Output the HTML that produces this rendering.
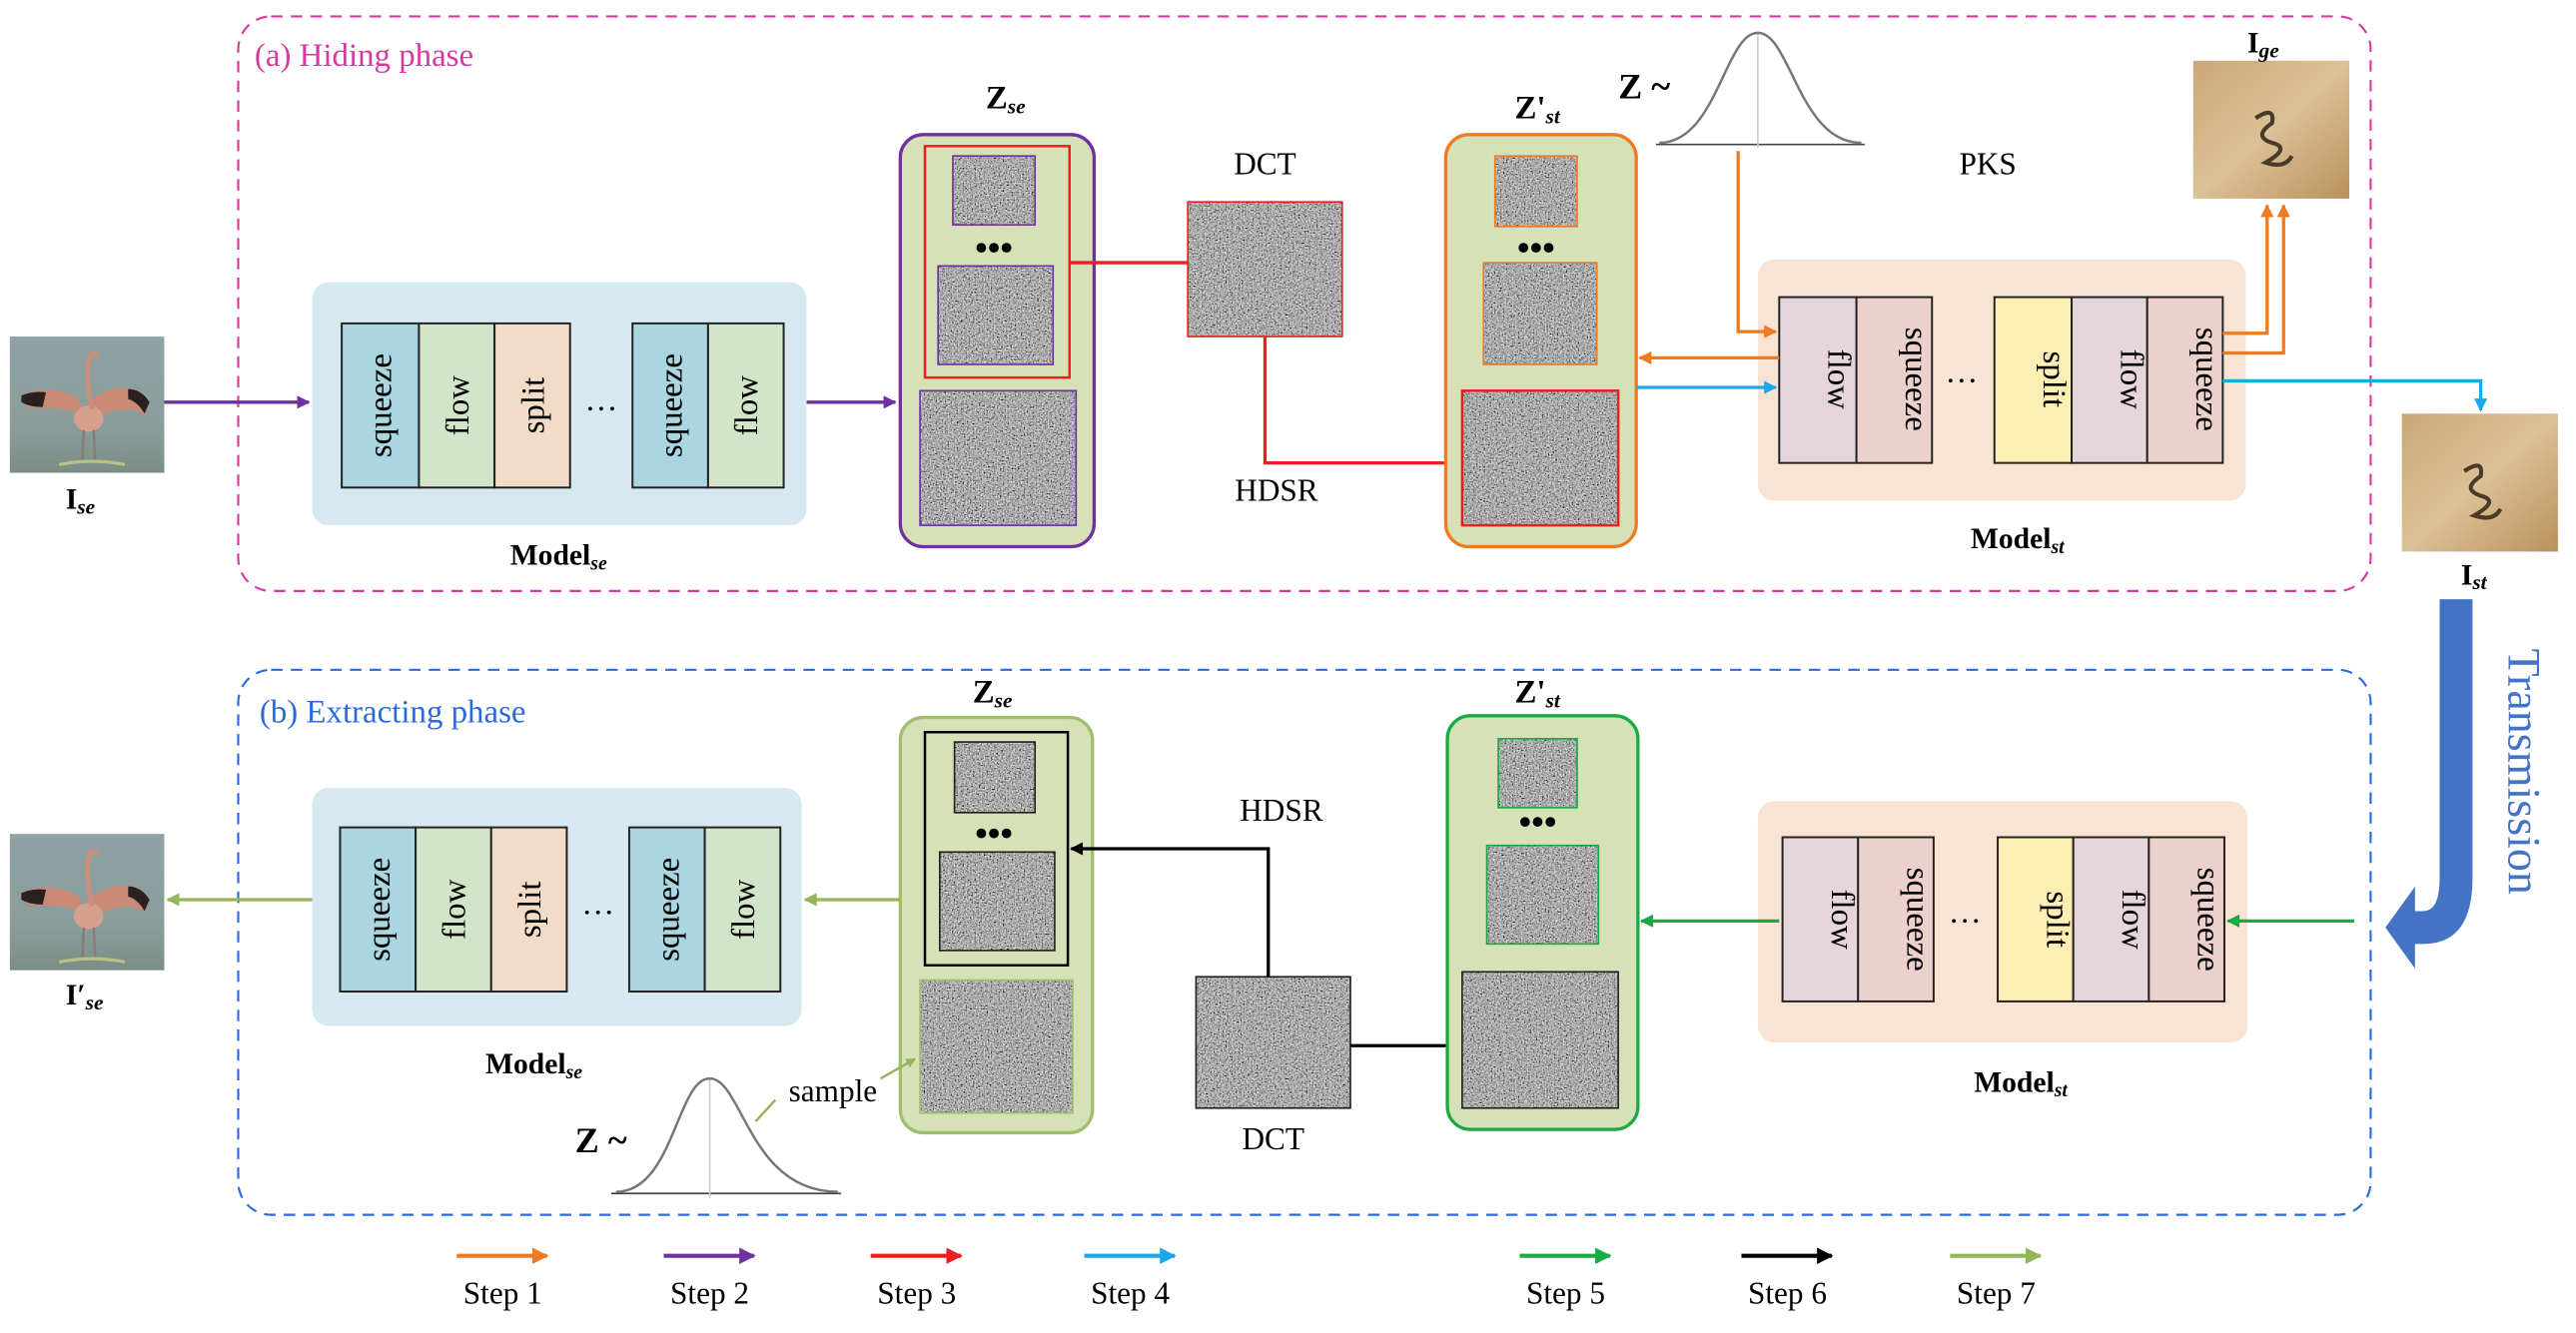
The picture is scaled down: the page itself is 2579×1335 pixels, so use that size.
<!DOCTYPE html>
<html><head><meta charset="utf-8"><style>
html,body{margin:0;padding:0;background:#fff;}
svg{display:block;}
text{font-family:"Liberation Serif",serif;}
</style></head><body>
<svg width="2579" height="1335" viewBox="0 0 1568 812" preserveAspectRatio="none" xmlns="http://www.w3.org/2000/svg">
<defs>
<filter id="nz" x="0" y="0" width="100%" height="100%">
<feTurbulence type="fractalNoise" baseFrequency="1.1" numOctaves="2" seed="3"/>
<feColorMatrix type="matrix" values="0.33 0.33 0.33 0 0 0.33 0.33 0.33 0 0 0.33 0.33 0.33 0 0 0 0 0 0 1"/>
<feComponentTransfer><feFuncR type="linear" slope="2.4" intercept="-0.78"/><feFuncG type="linear" slope="2.4" intercept="-0.78"/><feFuncB type="linear" slope="2.4" intercept="-0.78"/></feComponentTransfer>
</filter>
<marker id="mo" viewBox="0 0 10 10" refX="9" refY="5" markerWidth="4" markerHeight="4" orient="auto"><path d="M0,0L10,5L0,10z" fill="#ee7a22"/></marker>
<marker id="mp" viewBox="0 0 10 10" refX="9" refY="5" markerWidth="4" markerHeight="4" orient="auto"><path d="M0,0L10,5L0,10z" fill="#7030a0"/></marker>
<marker id="mr" viewBox="0 0 10 10" refX="9" refY="5" markerWidth="4" markerHeight="4" orient="auto"><path d="M0,0L10,5L0,10z" fill="#e82020"/></marker>
<marker id="mc" viewBox="0 0 10 10" refX="9" refY="5" markerWidth="4" markerHeight="4" orient="auto"><path d="M0,0L10,5L0,10z" fill="#1aa8e8"/></marker>
<marker id="mg" viewBox="0 0 10 10" refX="9" refY="5" markerWidth="4" markerHeight="4" orient="auto"><path d="M0,0L10,5L0,10z" fill="#1aaa44"/></marker>
<marker id="mk" viewBox="0 0 10 10" refX="9" refY="5" markerWidth="4" markerHeight="4" orient="auto"><path d="M0,0L10,5L0,10z" fill="#000"/></marker>
<marker id="ml" viewBox="0 0 10 10" refX="9" refY="5" markerWidth="4" markerHeight="4" orient="auto"><path d="M0,0L10,5L0,10z" fill="#92b659"/></marker>
<linearGradient id="sand" x1="0" y1="0" x2="1" y2="1"><stop offset="0" stop-color="#c9a877"/><stop offset="0.5" stop-color="#dcc096"/><stop offset="1" stop-color="#b8925e"/></linearGradient>
<linearGradient id="fl" x1="0" y1="0" x2="0" y2="1"><stop offset="0" stop-color="#8fa3a6"/><stop offset="0.7" stop-color="#8a9c9a"/><stop offset="1" stop-color="#7b8d86"/></linearGradient>
<g id="flam">
<rect x="0" y="0" width="94" height="83" fill="url(#fl)"/>
<path d="M7,36 Q25,28 42,38 L46,48 Q30,42 12,44 Z" fill="#c98a76"/>
<path d="M7,36 Q14,33 22,34 L20,43 Q12,43 7,40 Z" fill="#2a2020"/>
<path d="M50,38 Q65,28 78,33 L83,48 Q70,40 52,50 Z" fill="#c98a76"/>
<path d="M72,32 Q80,32 85,40 L82,47 Q78,40 72,38 Z" fill="#2a2020"/>
<ellipse cx="48" cy="50" rx="9" ry="8" fill="#d6a08c"/>
<path d="M50,44 Q46,25 48,14 Q50,8 54,12" stroke="#c9907c" stroke-width="3" fill="none"/>
<path d="M45,57 L44,78 M51,57 L52,76" stroke="#8a7a74" stroke-width="1.5"/>
<path d="M30,78 Q50,74 70,78" stroke="#b9c088" stroke-width="2" fill="none"/>
</g>
<g id="sandimg">
<rect x="0" y="0" width="95" height="84" fill="url(#sand)"/>
<path d="M38,35 q12,-8 10,3 q-12,8 0,12 q12,3 -4,12 q12,4 16,-4" stroke="#4a3a28" stroke-width="2.5" fill="none"/>
</g>
</defs>

<rect x="145" y="10" width="1298" height="350" rx="20" fill="none" stroke="#d63aa0" stroke-width="1.3" stroke-dasharray="7,5"/>
<text x="155" y="40" font-size="20" fill="#d63aa0">(a) Hiding phase</text>
<rect x="145" y="408" width="1298" height="332" rx="20" fill="none" stroke="#2a6ae0" stroke-width="1.3" stroke-dasharray="7,5"/>
<text x="158" y="440" font-size="20" fill="#2a6ae0">(b) Extracting phase</text>

<use href="#flam" x="6" y="205"/>
<text x="40" y="310" font-size="18" font-weight="bold">I<tspan font-size="13" font-style="italic" dy="3">se</tspan></text>
<use href="#flam" x="6" y="508"/>
<text x="40" y="612" font-size="18" font-weight="bold">I′<tspan font-size="13" font-style="italic" dy="3">se</tspan></text>
<use href="#sandimg" x="1335" y="37"/>
<text x="1368" y="32" font-size="18" font-weight="bold">I<tspan font-size="13" font-style="italic" dy="3">ge</tspan></text>
<use href="#sandimg" x="1462" y="252"/>
<text x="1498" y="356" font-size="18" font-weight="bold">I<tspan font-size="13" font-style="italic" dy="3">st</tspan></text>

<rect x="190" y="172" width="301" height="148" rx="10" fill="#d6e9f1"/>
<g stroke="#222" stroke-width="1.2">
<rect x="208" y="197" width="47" height="100" fill="#a9d6e1"/>
<rect x="255" y="197" width="46" height="100" fill="#d3e5c8"/>
<rect x="301" y="197" width="46" height="100" fill="#f2dcc8"/>
<rect x="385" y="197" width="46" height="100" fill="#a9d6e1"/>
<rect x="431" y="197" width="46" height="100" fill="#d3e5c8"/>
</g>
<g font-size="20">
<text transform="translate(238,247) rotate(-90)" text-anchor="middle">squeeze</text>
<text transform="translate(285,247) rotate(-90)" text-anchor="middle">flow</text>
<text transform="translate(331,247) rotate(-90)" text-anchor="middle">split</text>
<text x="366" y="250" text-anchor="middle">…</text>
<text transform="translate(415,247) rotate(-90)" text-anchor="middle">squeeze</text>
<text transform="translate(461,247) rotate(-90)" text-anchor="middle">flow</text>
</g>
<text x="340" y="344" font-size="18" font-weight="bold" text-anchor="middle">Model<tspan font-size="12" font-style="italic" dy="3">se</tspan></text>

<rect x="190" y="480" width="298" height="145" rx="10" fill="#d6e9f1"/>
<g stroke="#222" stroke-width="1.2">
<rect x="207" y="504" width="46" height="100" fill="#a9d6e1"/>
<rect x="253" y="504" width="46" height="100" fill="#d3e5c8"/>
<rect x="299" y="504" width="46" height="100" fill="#f2dcc8"/>
<rect x="383" y="504" width="46" height="100" fill="#a9d6e1"/>
<rect x="429" y="504" width="46" height="100" fill="#d3e5c8"/>
</g>
<g font-size="20">
<text transform="translate(237,554) rotate(-90)" text-anchor="middle">squeeze</text>
<text transform="translate(283,554) rotate(-90)" text-anchor="middle">flow</text>
<text transform="translate(329,554) rotate(-90)" text-anchor="middle">split</text>
<text x="364" y="557" text-anchor="middle">…</text>
<text transform="translate(413,554) rotate(-90)" text-anchor="middle">squeeze</text>
<text transform="translate(459,554) rotate(-90)" text-anchor="middle">flow</text>
</g>
<text x="325" y="654" font-size="18" font-weight="bold" text-anchor="middle">Model<tspan font-size="12" font-style="italic" dy="3">se</tspan></text>

<rect x="1070" y="158" width="297" height="147" rx="10" fill="#f9e3d3"/>
<g stroke="#222" stroke-width="1.2">
<rect x="1083" y="181" width="47" height="101" fill="#e6d6dc"/>
<rect x="1130" y="181" width="46" height="101" fill="#ecd0cc"/>
<rect x="1214" y="181" width="47" height="101" fill="#fdeeb4"/>
<rect x="1261" y="181" width="46" height="101" fill="#e6d6dc"/>
<rect x="1307" y="181" width="46" height="101" fill="#ecd0cc"/>
</g>
<g font-size="20">
<text transform="translate(1113,231) rotate(90)" text-anchor="middle">flow</text>
<text transform="translate(1160,231) rotate(90)" text-anchor="middle">squeeze</text>
<text x="1194" y="233" text-anchor="middle">…</text>
<text transform="translate(1244,231) rotate(90)" text-anchor="middle">split</text>
<text transform="translate(1291,231) rotate(90)" text-anchor="middle">flow</text>
<text transform="translate(1337,231) rotate(90)" text-anchor="middle">squeeze</text>
</g>
<text x="1228" y="334" font-size="18" font-weight="bold" text-anchor="middle">Model<tspan font-size="12" font-style="italic" dy="3">st</tspan></text>

<rect x="1070" y="488" width="298" height="147" rx="10" fill="#f9e3d3"/>
<g stroke="#222" stroke-width="1.2">
<rect x="1085" y="510" width="46" height="100" fill="#e6d6dc"/>
<rect x="1131" y="510" width="46" height="100" fill="#ecd0cc"/>
<rect x="1216" y="510" width="46" height="100" fill="#fdeeb4"/>
<rect x="1262" y="510" width="46" height="100" fill="#e6d6dc"/>
<rect x="1308" y="510" width="46" height="100" fill="#ecd0cc"/>
</g>
<g font-size="20">
<text transform="translate(1115,560) rotate(90)" text-anchor="middle">flow</text>
<text transform="translate(1161,560) rotate(90)" text-anchor="middle">squeeze</text>
<text x="1196" y="562" text-anchor="middle">…</text>
<text transform="translate(1246,560) rotate(90)" text-anchor="middle">split</text>
<text transform="translate(1292,560) rotate(90)" text-anchor="middle">flow</text>
<text transform="translate(1338,560) rotate(90)" text-anchor="middle">squeeze</text>
</g>
<text x="1230" y="665" font-size="18" font-weight="bold" text-anchor="middle">Model<tspan font-size="12" font-style="italic" dy="3">st</tspan></text>

<rect x="548" y="82" width="118" height="251" rx="14" fill="#d6e1b8" stroke="#7030a0" stroke-width="2"/>
<rect x="580" y="95" width="50" height="42" filter="url(#nz)"/><rect x="580" y="95" width="50" height="42" fill="none" stroke="#7030a0"/>
<text x="605" y="158" font-size="22" text-anchor="middle" font-weight="bold">•••</text>
<rect x="571" y="162" width="70" height="60" filter="url(#nz)"/><rect x="571" y="162" width="70" height="60" fill="none" stroke="#7030a0"/>
<rect x="563" y="89" width="88" height="141" fill="none" stroke="#e82020" stroke-width="1.5"/>
<rect x="560" y="238" width="95" height="82" filter="url(#nz)"/><rect x="560" y="238" width="95" height="82" fill="none" stroke="#7030a0"/>
<text x="600" y="66" font-size="20" font-weight="bold">Z<tspan font-size="13" font-style="italic" dy="3">se</tspan></text>

<rect x="723" y="123" width="94" height="82" filter="url(#nz)"/><rect x="723" y="123" width="94" height="82" fill="none" stroke="#e82020"/>
<text x="770" y="106" font-size="19" text-anchor="middle">DCT</text>
<text x="777" y="305" font-size="19" text-anchor="middle">HDSR</text>
<path d="M651,160H723" stroke="#e82020" stroke-width="2" fill="none"/>
<path d="M770,205V282H888" stroke="#e82020" stroke-width="2" fill="none" marker-end="url(#mr)"/>

<rect x="880" y="82" width="116" height="251" rx="14" fill="#d6e1b8" stroke="#ee7a22" stroke-width="2"/>
<rect x="910" y="95" width="50" height="43" filter="url(#nz)"/><rect x="910" y="95" width="50" height="43" fill="none" stroke="#ee7a22"/>
<text x="935" y="158" font-size="22" text-anchor="middle" font-weight="bold">•••</text>
<rect x="903" y="160" width="69" height="62" filter="url(#nz)"/><rect x="903" y="160" width="69" height="62" fill="none" stroke="#ee7a22"/>
<rect x="890" y="238" width="95" height="82" filter="url(#nz)"/><rect x="890" y="238" width="95" height="82" fill="none" stroke="#e82020" stroke-width="1.5"/>
<text x="922" y="72" font-size="20" font-weight="bold">Z'<tspan font-size="13" font-style="italic" dy="3">st</tspan></text>

<text x="985" y="60" font-size="22" font-weight="bold">Z ~</text>
<path d="M1008,88H1135" stroke="#444" stroke-width="1"/>
<path d="M1070,20V90" stroke="#ccc" stroke-width="1"/>
<path d="M1010,87 C1045,87 1050,20 1070,20 C1090,20 1095,87 1133,87" stroke="#777" stroke-width="1.5" fill="none"/>
<text x="1210" y="106" font-size="19" text-anchor="middle">PKS</text>

<path d="M100,245H188" stroke="#7030a0" stroke-width="2" marker-end="url(#mp)"/>
<path d="M491,245H545" stroke="#7030a0" stroke-width="2" marker-end="url(#mp)"/>
<path d="M1058,92V202H1081" stroke="#ee7a22" stroke-width="2" fill="none" marker-end="url(#mo)"/>
<path d="M1083,218H998" stroke="#ee7a22" stroke-width="2" fill="none" marker-end="url(#mo)"/>
<path d="M996,236H1081" stroke="#1aa8e8" stroke-width="2" fill="none" marker-end="url(#mc)"/>
<path d="M1353,232H1510V250" stroke="#1aa8e8" stroke-width="2" fill="none" marker-end="url(#mc)"/>
<path d="M1353,203H1380V125" stroke="#ee7a22" stroke-width="2" fill="none" marker-end="url(#mo)"/>
<path d="M1353,215H1390V125" stroke="#ee7a22" stroke-width="2" fill="none" marker-end="url(#mo)"/>

<path d="M1480,365H1505V535Q1505,575 1475,575H1470V590L1452,565L1470,540V555H1475Q1485,555 1485,535V365Z" fill="#4472c4"/>
<text transform="translate(1527,470) rotate(90)" font-size="28" fill="#4472c4" text-anchor="middle">Transmission</text>

<rect x="548" y="437" width="117" height="253" rx="14" fill="#d6e1b8" stroke="#9fc06a" stroke-width="2"/>
<rect x="563" y="446" width="87" height="142" fill="none" stroke="#000" stroke-width="1.5"/>
<rect x="581" y="452" width="49" height="43" filter="url(#nz)"/><rect x="581" y="452" width="49" height="43" fill="none" stroke="#222"/>
<text x="605" y="515" font-size="22" text-anchor="middle" font-weight="bold">•••</text>
<rect x="572" y="519" width="70" height="60" filter="url(#nz)"/><rect x="572" y="519" width="70" height="60" fill="none" stroke="#222"/>
<rect x="560" y="597" width="93" height="81" filter="url(#nz)"/><rect x="560" y="597" width="93" height="81" fill="none" stroke="#9fc06a"/>
<text x="592" y="428" font-size="20" font-weight="bold">Z<tspan font-size="13" font-style="italic" dy="3">se</tspan></text>

<rect x="728" y="595" width="94" height="80" filter="url(#nz)"/><rect x="728" y="595" width="94" height="80" fill="none" stroke="#222"/>
<text x="775" y="700" font-size="19" text-anchor="middle">DCT</text>
<text x="780" y="500" font-size="19" text-anchor="middle">HDSR</text>
<path d="M772,595V517H652" stroke="#000" stroke-width="2" fill="none" marker-end="url(#mk)"/>
<path d="M822,637H890" stroke="#000" stroke-width="2" fill="none"/>

<rect x="881" y="436" width="116" height="252" rx="14" fill="#d6e1b8" stroke="#1aaa44" stroke-width="2"/>
<rect x="912" y="450" width="48" height="42" filter="url(#nz)"/><rect x="912" y="450" width="48" height="42" fill="none" stroke="#1aaa44"/>
<text x="936" y="508" font-size="22" text-anchor="middle" font-weight="bold">•••</text>
<rect x="905" y="515" width="68" height="60" filter="url(#nz)"/><rect x="905" y="515" width="68" height="60" fill="none" stroke="#1aaa44"/>
<rect x="890" y="592" width="95" height="83" filter="url(#nz)"/><rect x="890" y="592" width="95" height="83" fill="none" stroke="#222"/>
<text x="922" y="428" font-size="20" font-weight="bold">Z'<tspan font-size="13" font-style="italic" dy="3">st</tspan></text>

<path d="M1433,561H1356" stroke="#1aaa44" stroke-width="2" marker-end="url(#mg)"/>
<path d="M1083,561H999" stroke="#1aaa44" stroke-width="2" marker-end="url(#mg)"/>
<path d="M548,548H490" stroke="#92b659" stroke-width="2" marker-end="url(#ml)"/>
<path d="M190,548H102" stroke="#92b659" stroke-width="2" marker-end="url(#ml)"/>

<text x="350" y="702" font-size="22" font-weight="bold">Z ~</text>
<path d="M372,727H512" stroke="#444" stroke-width="1"/>
<path d="M432,657V730" stroke="#ccc" stroke-width="1"/>
<path d="M375,726 C410,726 412,657 432,657 C452,657 456,726 510,726" stroke="#777" stroke-width="1.5" fill="none"/>
<text x="507" y="671" font-size="19" text-anchor="middle">sample</text>
<path d="M460,683L472,670" stroke="#92b659" stroke-width="1.5"/>
<path d="M536,657L557,645" stroke="#92b659" stroke-width="1.5" marker-end="url(#ml)"/>

<g stroke-width="2.5">
<path d="M278,765H333" stroke="#ee7a22" marker-end="url(#mo)"/>
<path d="M404,765H459" stroke="#7030a0" marker-end="url(#mp)"/>
<path d="M530,765H585" stroke="#e82020" marker-end="url(#mr)"/>
<path d="M660,765H715" stroke="#1aa8e8" marker-end="url(#mc)"/>
<path d="M925,765H980" stroke="#1aaa44" marker-end="url(#mg)"/>
<path d="M1060,765H1115" stroke="#000" marker-end="url(#mk)"/>
<path d="M1187,765H1242" stroke="#92b659" marker-end="url(#ml)"/>
</g>
<g font-size="19" text-anchor="middle">
<text x="306" y="794">Step 1</text>
<text x="432" y="794">Step 2</text>
<text x="558" y="794">Step 3</text>
<text x="688" y="794">Step 4</text>
<text x="953" y="794">Step 5</text>
<text x="1088" y="794">Step 6</text>
<text x="1215" y="794">Step 7</text>
</g>
</svg>
</body></html>
